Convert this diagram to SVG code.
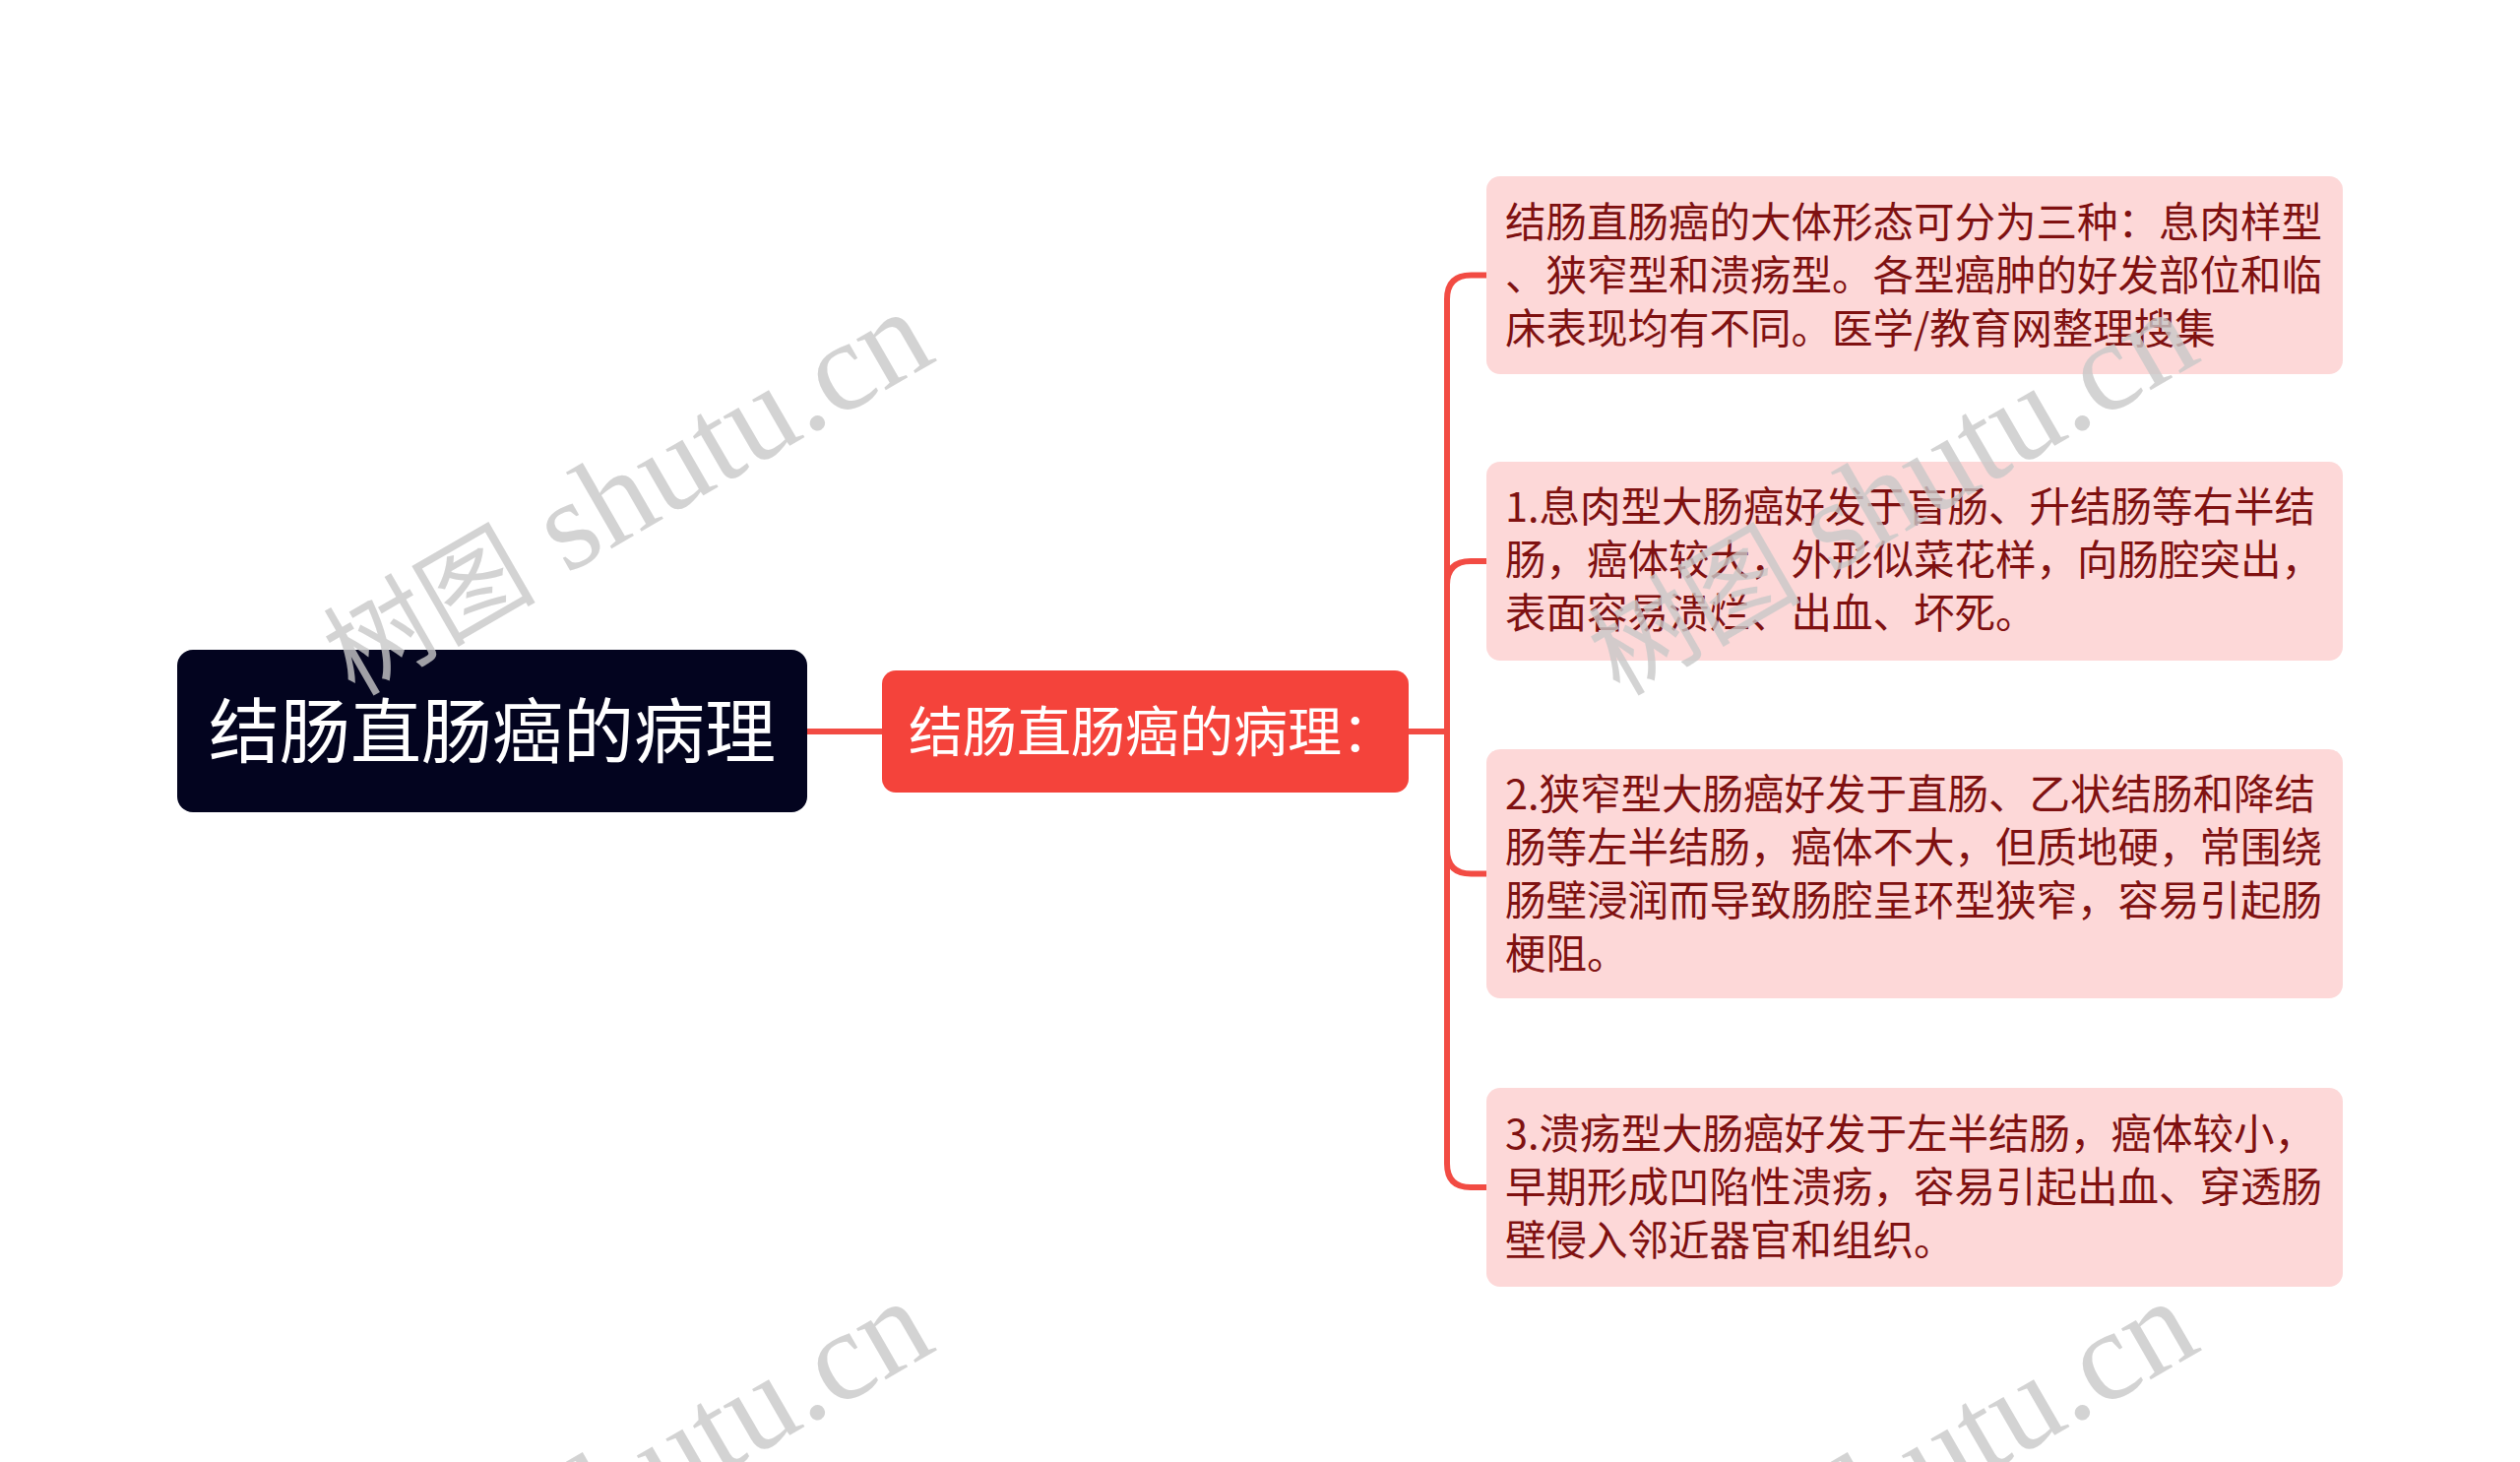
<svg xmlns="http://www.w3.org/2000/svg" width="2560" height="1485" viewBox="0 0 2560 1485">
<style>
.conn{fill:none;stroke:#f24b43;stroke-width:6;stroke-linecap:round}
.leaf rect{fill:#fdd8d8}
.leaf text{font-family:"Noto Sans CJK SC","Noto Sans",sans-serif;font-size:41.5px;fill:#7f1111}
.wm{font-family:"Liberation Serif","Noto Sans CJK SC",serif;font-size:130px;fill:#c8c8c8;fill-opacity:0.8}
.wm .cj{font-size:108px}
</style>
<rect width="2560" height="1485" fill="#ffffff"/>
<g id="connectors">
<path class="conn" d="M820,743 L896,743"/>
<path class="conn" d="M1431,743 L1470,743"/>
<path class="conn" d="M1470,743 L1470,304 Q1470,279.5 1494.5,279.5 L1510,279.5"/>
<path class="conn" d="M1470,743 L1470,594 Q1470,570 1494,570 L1510,570"/>
<path class="conn" d="M1470,743 L1470,863 Q1470,887.5 1494.5,887.5 L1510,887.5"/>
<path class="conn" d="M1470,743 L1470,1182 Q1470,1206 1494,1206 L1510,1206"/>
</g>
<g id="root">
<rect x="180" y="660" width="640" height="165" rx="16" fill="#03041f"/>
<text x="500" y="769" text-anchor="middle" font-family="'Noto Sans CJK SC','Noto Sans',sans-serif" font-size="72" fill="#ffffff">结肠直肠癌的病理</text>
</g>
<g id="center">
<rect x="896" y="681" width="535" height="124" rx="14" fill="#f4433b"/>
<text x="923" y="763" font-family="'Noto Sans CJK SC','Noto Sans',sans-serif" font-size="55" fill="#ffffff">结肠直肠癌的病理：</text>
</g>
<g id="leaf1" class="leaf">
<rect x="1510" y="179" width="870" height="201" rx="14"/>
<text x="1529" y="241">结肠直肠癌的大体形态可分为三种：息肉样型</text>
<text x="1529" y="295">、狭窄型和溃疡型。各型癌肿的好发部位和临</text>
<text x="1529" y="349">床表现均有不同。医学/教育网整理搜集</text>
</g>
<g id="leaf2" class="leaf">
<rect x="1510" y="469" width="870" height="202" rx="14"/>
<text x="1529" y="530">1.息肉型大肠癌好发于盲肠、升结肠等右半结</text>
<text x="1529" y="584">肠，癌体较大，外形似菜花样，向肠腔突出，</text>
<text x="1529" y="638">表面容易溃烂、出血、坏死。</text>
</g>
<g id="leaf3" class="leaf">
<rect x="1510" y="761" width="870" height="253" rx="14"/>
<text x="1529" y="822">2.狭窄型大肠癌好发于直肠、乙状结肠和降结</text>
<text x="1529" y="876">肠等左半结肠，癌体不大，但质地硬，常围绕</text>
<text x="1529" y="930">肠壁浸润而导致肠腔呈环型狭窄，容易引起肠</text>
<text x="1529" y="984">梗阻。</text>
</g>
<g id="leaf4" class="leaf">
<rect x="1510" y="1105" width="870" height="202" rx="14"/>
<text x="1529" y="1167">3.溃疡型大肠癌好发于左半结肠，癌体较小，</text>
<text x="1529" y="1221">早期形成凹陷性溃疡，容易引起出血、穿透肠</text>
<text x="1529" y="1275">壁侵入邻近器官和组织。</text>
</g>
<g id="watermarks">
<text class="wm" x="360" y="708" transform="rotate(-30 360 708)"><tspan class="cj">树图</tspan> shutu.cn</text>
<text class="wm" x="1645" y="708" transform="rotate(-30 1645 708)"><tspan class="cj">树图</tspan> shutu.cn</text>
<text class="wm" x="360" y="1713" transform="rotate(-30 360 1713)"><tspan class="cj">树图</tspan> shutu.cn</text>
<text class="wm" x="1645" y="1713" transform="rotate(-30 1645 1713)"><tspan class="cj">树图</tspan> shutu.cn</text>
</g>
</svg>
